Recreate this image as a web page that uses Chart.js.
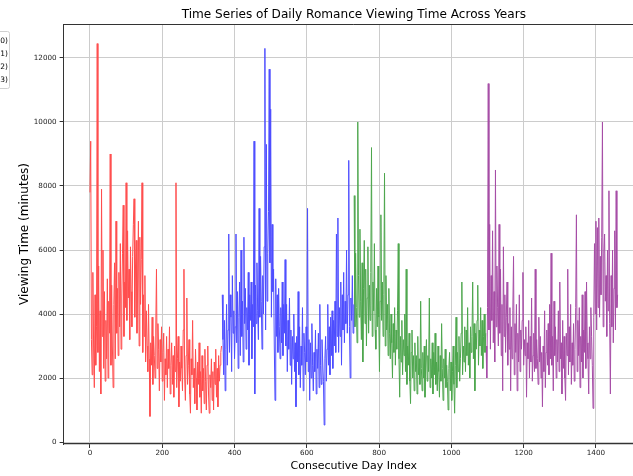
<!DOCTYPE html>
<html><head><meta charset="utf-8">
<script src="https://cdn.jsdelivr.net/npm/chart.js@4/dist/chart.umd.min.js"></script>
<style>
html,body{margin:0;padding:0;background:#fff;overflow:hidden;width:633px;height:476px}
#wrap{width:633px;height:476px;overflow:hidden;position:relative}
canvas{position:absolute;left:0;top:0}
</style></head>
<body><div id="wrap"><canvas id="c" width="660" height="476"></canvas></div>
<script>
const chartTitle = 'Time Series of Daily Romance Viewing Time Across Years';
const xTitle = 'Consecutive Day Index';
const yTitle = 'Viewing Time (minutes)';
const seriesLabels = ['Year 1 (2020)', 'Year 2 (2021)', 'Year 3 (2022)', 'Year 4 (2023)'];
const startDays = [0, 366, 731, 1096];
const dayStep = 2;
const xTicks = [0, 200, 400, 600, 800, 1000, 1200, 1400];
const yTicks = [0, 2000, 4000, 6000, 8000, 10000, 12000];

// one value every 2nd day
const values2020 = [
7800,9400,3200,2100,5300,3000,1700,4600,2400,3600,12450,2800,5500,2200,4100,1500,7900,3300,6000,2300,
4700,1900,3800,2600,5100,2000,4400,3400,9000,2400,4900,3000,1700,4300,5600,2600,6900,3400,4800,2700,
5300,3600,6200,2900,4500,5900,7400,3300,5000,4200,8100,3800,6600,4500,5400,3200,6100,4700,3600,5800,
6800,7600,3900,5500,6300,3400,5000,6900,3000,6400,4300,5700,8100,2800,4600,3300,5200,2500,4100,3000,
2200,4300,2600,800,3100,2400,3900,1800,3300,2700,2000,3500,5400,2300,3700,2900,1600,3200,2500,3600,
1900,2800,3400,1300,2600,2100,3300,1700,2900,2300,3600,1500,2400,3100,1800,2700,1400,3000,2200,8100,
1700,2600,3300,1100,2500,1900,3000,2300,1600,3500,5400,2000,1300,2700,4500,1800,2400,3200,1500,900,
2600,2100,3800,1700,2300,1200,2900,2000,1000,2500,1800,3100,1400,2200,900,2700,1600,2300,1200,2900,
1900,1000,2400,3000,1500,900,2100,1700,2600,1300,2200,1000,2500,1800,2900,1400,2300,1100,2700,1900,
2400,2800,3000];

const values2021 = [
4600,3200,2100,3800,1600,2900,4300,2400,3500,6500,2800,4600,3900,2200,5200,3400,4100,2600,3600,6500,
3100,4700,2300,3900,5000,2700,6000,3300,4400,2500,6400,3700,4800,2900,4200,3500,5300,2400,4600,3800,
5000,2600,4300,3600,9400,1500,4900,3700,5600,4100,3200,7300,3900,5800,4400,2900,5200,4000,6100,12300,
3500,9300,4400,5900,7200,11650,5600,10400,3900,6800,4700,5400,3000,1300,5100,3300,4600,2800,4800,3600,
2600,4200,3100,5000,2700,4300,3400,5700,3000,4300,2200,3800,2900,4500,2400,3500,1800,3300,2600,4000,
2200,3100,1100,3300,2500,4700,2100,3600,1700,3000,2400,4200,1600,3400,2800,2100,3600,2500,7300,2200,
3200,1300,3100,2000,3700,2400,1600,2800,2200,3500,1500,2900,2300,3400,1700,4300,2400,1800,3200,2500,
1900,530,2600,3300,1900,2900,4300,2400,3600,2100,3900,2700,4100,2300,3800,3000,4400,2800,6500,3300,
7000,2800,4200,3300,5000,2400,4600,3500,5300,3100,4400,3700,6000,3400,4600,8800,3600,2000,4500,3800,
5200,3400,4300];

const values2022 = [
7700,3600,5900,4200,3100,10000,5200,3900,6650,4400,3200,5600,2500,4800,6300,3700,5400,3000,4500,6100,
3400,4900,3800,5300,9200,3300,5000,4100,6200,3500,2900,4800,3600,5500,3900,2200,4400,7100,3800,5000,
3300,4600,8400,3000,5200,3500,4300,2700,4800,3400,2600,4000,3100,2000,3700,2800,4200,2400,3500,2900,
4100,6200,2600,1400,3300,2500,3800,2100,3200,2700,4000,2200,5400,1800,3000,2400,3400,1900,1200,2800,
3500,2000,2700,1600,3100,2200,2700,1500,3300,2100,2600,1800,4400,2300,1600,2800,2000,3000,1400,2500,
3200,1900,2700,2200,4500,1700,2600,2000,3100,1500,2800,2100,3400,1800,2500,1600,3000,2200,1400,2700,
1900,3700,2300,1300,2600,2000,2900,1700,2400,1900,1000,2300,2800,1600,2500,1300,2200,3000,1800,900,
2400,3900,1700,2800,2200,3300,1900,2600,3400,5000,2100,3000,2500,3600,2200,3500,2700,4200,2400,3100,
2000,3600,2800,3300,5000,2600,3700,1600,3400,2900,3800,4900,2400,3500,3000,4200,2700,3800,2300,3300,
4000,2800,3400];

const values2023 = [
3000,2000,4200,11200,3500,6800,2900,5200,3800,6600,3100,4700,2500,8500,3600,5500,4200,3000,6800,3400,
5400,2700,4300,1600,6100,3300,4600,2800,3900,5000,2400,3700,2900,4200,1600,3600,2600,4100,5800,2100,
3700,2800,4300,1600,3400,2500,4600,2200,3500,2900,3800,5300,2400,3200,2700,3600,1400,3100,2600,3800,
2000,3300,2500,4500,1900,2700,3400,2200,5400,2300,3200,2600,1800,3900,2500,3300,2000,2800,1100,3000,
2200,4100,1700,2800,3500,2400,3700,2100,4300,2600,5900,2400,3300,1600,4400,2700,3600,2000,3200,2500,
4100,2200,5000,2600,3100,1500,3800,2300,3300,2000,1300,3400,2700,5400,2100,3600,2500,4300,1800,3100,
2400,3700,1900,2900,4200,7100,2200,3800,2700,4200,1700,3300,2500,4600,2000,3500,2800,4700,2300,5000,
3100,2600,1500,3600,2600,4200,3300,2400,1050,3900,6200,4000,6900,3500,6700,4200,7000,3900,5800,4600,
6400,10000,3600,5900,6500,4400,5200,3300,6000,4100,7850,3700,1500,5200,3600,6000,3100,4800,6600,3500,
7850,4200,4600];

const seriesValues = [values2020, values2021, values2022, values2023];
// matplotlib base colours at alpha 0.7 over white
const seriesColors = ['#ff4d4d', '#4d4dff', '#4da64d', '#a64da6'];

const FONT = "'DejaVu Sans', 'Liberation Sans', sans-serif";

const datasets = seriesValues.map((vals, k) => ({
  label: seriesLabels[k],
  data: vals.map((v, i) => ({ x: startDays[k] + i * dayStep, y: v })),
  borderColor: seriesColors[k],
  backgroundColor: seriesColors[k],
  borderWidth: 1,
  pointRadius: 0,
  tension: 0,
  fill: false
}));

const frame = {
  id: 'frame',
  afterDraw(chart) {
    const { ctx, chartArea: a } = chart;
    ctx.save();
    // top spine
    ctx.strokeStyle = '#333';
    ctx.lineWidth = 1;
    ctx.beginPath();
    ctx.moveTo(a.left, a.top + 0.5);
    ctx.lineTo(a.right, a.top + 0.5);
    ctx.stroke();
    // title centred over the axes
    ctx.fillStyle = '#000';
    ctx.font = "12.1px " + FONT;
    ctx.textAlign = 'center';
    ctx.textBaseline = 'middle';
    ctx.fillText(chartTitle, (a.left + a.right) / 2, 15);
    // legend box (partly outside the visible figure, as in the original)
    const bx = -70, by = 31, bw = 79, bh = 57;
    ctx.fillStyle = 'rgba(255,255,255,0.8)';
    ctx.strokeStyle = '#d0d0d0';
    ctx.beginPath();
    ctx.roundRect(bx + 0.5, by + 0.5, bw, bh, 2);
    ctx.fill();
    ctx.stroke();
    ctx.font = "7.5px " + FONT;
    ctx.textAlign = 'right';
    chart.data.datasets.forEach((d, i) => {
      const y = 41 + i * 13;
      ctx.strokeStyle = d.borderColor;
      ctx.lineWidth = 1.5;
      ctx.beginPath();
      ctx.moveTo(bx + 4, y);
      ctx.lineTo(bx + 16, y);
      ctx.stroke();
      ctx.fillStyle = '#000';
      ctx.fillText(d.label, 8, y);
    });
    ctx.restore();
  }
};

new Chart(document.getElementById('c'), {
  type: 'line',
  data: { datasets },
  plugins: [frame],
  options: {
    responsive: false,
    animation: false,
    devicePixelRatio: 1,
    layout: { padding: { left: 0, right: 16, top: 24, bottom: 0 } },
    plugins: {
      legend: { display: false },
      tooltip: { enabled: false },
      title: { display: false }
    },
    scales: {
      x: {
        type: 'linear',
        min: -73,
        max: 1533,
        afterBuildTicks: s => { s.ticks = xTicks.map(v => ({ value: v })); },
        afterFit: s => { s.height = 32; },
        ticks: { color: '#222', font: { family: FONT, size: 7.2 }, padding: 1, maxRotation: 0, autoSkip: false, callback: v => String(v) },
        grid: { color: '#cccccc', lineWidth: 1, tickLength: 4, tickColor: '#333', tickWidth: 1 },
        border: { display: true, color: '#333', width: 1.2 },
        title: { display: true, text: xTitle, color: '#000', font: { family: FONT, size: 11 }, padding: { top: 0, bottom: 3.4 } }
      },
      y: {
        type: 'linear',
        min: -62,
        max: 13062,
        afterBuildTicks: s => { s.ticks = yTicks.map(v => ({ value: v })); },
        afterFit: s => { s.width = 63.6; },
        ticks: { color: '#222', font: { family: FONT, size: 7.2 }, padding: 3, callback: v => String(v) },
        grid: { color: '#cccccc', lineWidth: 1, tickLength: 4, tickColor: '#333', tickWidth: 1 },
        border: { display: true, color: '#333', width: 1 },
        title: { display: true, text: yTitle, color: '#000', font: { family: FONT, size: 12 }, padding: { top: 17.8, bottom: 0 } }
      }
    }
  }
});
</script>
</body></html>
